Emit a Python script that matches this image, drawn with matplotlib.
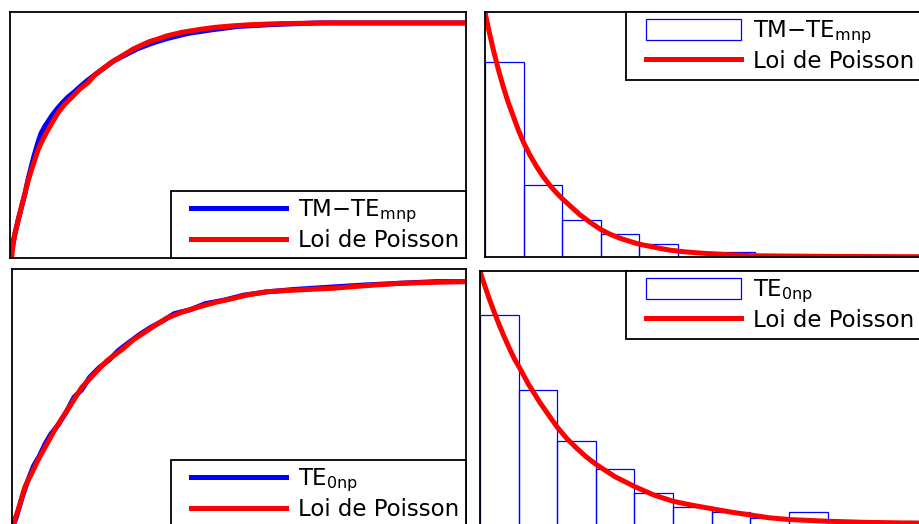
import numpy as np
import matplotlib
matplotlib.use("Agg")
import matplotlib.pyplot as plt
from matplotlib.legend_handler import HandlerLine2D, HandlerPatch

# --- data (x in bin units, bin width = 1) ---

# top-left: empirical cdf (blue) and Poisson cdf (red)
tl_blue_x = [0, 0.03, 0.08, 0.15, 0.22, 0.3, 0.38, 0.46, 0.55, 0.63, 0.72, 0.8, 0.9, 1.0, 1.1, 1.22,
             1.35, 1.5, 1.65, 1.82, 2.0, 2.2, 2.45, 2.7, 3.0, 3.3, 3.7, 4.1, 4.6, 5.2, 5.9, 6.8, 8.0, 11.8]
tl_blue_y = [0, 0.02, 0.07, 0.12, 0.17, 0.22, 0.27, 0.33, 0.39, 0.44, 0.49, 0.53, 0.56, 0.585, 0.61, 0.635,
             0.66, 0.685, 0.705, 0.73, 0.755, 0.78, 0.81, 0.84, 0.865, 0.89, 0.915, 0.935, 0.955, 0.97, 0.985, 0.993, 1.0, 1.0]
tl_red_x = [0, 0.044, 0.07, 0.13, 0.195, 0.26, 0.32, 0.39, 0.47, 0.56, 0.645, 0.73, 0.86, 0.99, 1.12, 1.25,
            1.42, 1.6, 1.8, 2.03, 2.2, 2.4, 2.6, 2.8, 3.0, 3.2, 3.4, 3.6, 3.8, 4.06, 4.45, 4.9, 5.3, 5.8,
            6.3, 7.0, 8.4, 11.8]
tl_red_y = [0, 0.008, 0.045, 0.108, 0.15, 0.193, 0.235, 0.278, 0.33, 0.378, 0.42, 0.463, 0.508, 0.548, 0.585, 0.62,
            0.655, 0.684, 0.718, 0.748, 0.78, 0.805, 0.83, 0.85, 0.87, 0.89, 0.905, 0.92, 0.93, 0.945, 0.96, 0.972,
            0.981, 0.988, 0.993, 0.997, 1.0, 1.0]

# top-right: histogram (blue bars) and Poisson density (red)
tr_bins = [0, 1, 2, 3, 4, 5, 6, 7, 8, 9, 10, 11]
tr_counts = [0.558, 0.2065, 0.1075, 0.0667, 0.0371, 0.0157, 0.0143, 0.004, 0.003, 0.002, 0.001, 0.001]
tr_red_x = [0, 0.1, 0.215, 0.35, 0.474, 0.6, 0.733, 0.86, 0.992, 1.15, 1.34, 1.5, 1.68, 1.84, 2.0, 2.23,
            2.46, 2.73, 3.0, 3.25, 3.5, 3.75, 4.0, 4.4, 4.79, 5.2, 5.66, 6.3, 6.95, 9.0, 12.0]
tr_red_y = [0.70, 0.648, 0.593, 0.535, 0.487, 0.443, 0.403, 0.365, 0.33, 0.295, 0.259, 0.232, 0.206, 0.186,
            0.168, 0.145, 0.122, 0.1, 0.08, 0.066, 0.055, 0.046, 0.038, 0.029, 0.021, 0.016, 0.012, 0.008,
            0.005, 0.003, 0.002]

# bottom-left
bl_blue_x = [0, 0.1, 0.25, 0.4, 0.55, 0.7, 0.85, 1.0, 1.2, 1.4, 1.6, 1.8, 2.0, 2.25, 2.5, 2.75, 3.0, 3.3,
             3.6, 3.9, 4.2, 4.6, 5.0, 5.5, 6.0, 6.6, 7.3, 8.0, 9.0, 10.0, 11.0, 11.8]
bl_blue_y = [0, 0.04, 0.12, 0.19, 0.25, 0.29, 0.34, 0.38, 0.42, 0.47, 0.53, 0.56, 0.61, 0.65, 0.68, 0.72, 0.75, 0.785,
             0.815, 0.84, 0.87, 0.885, 0.91, 0.925, 0.945, 0.958, 0.968, 0.975, 0.985, 0.993, 1.0, 1.0]
bl_red_x = [0, 0.07, 0.15, 0.24, 0.33, 0.5, 0.67, 0.88, 1.1, 1.32, 1.54, 1.8, 2.14, 2.45, 2.83, 3.15, 3.52,
            3.76, 4.0, 4.4, 4.86, 5.3, 5.73, 6.1, 6.59, 7.4, 8.32, 9.2, 10.04, 10.9, 11.75]
bl_red_y = [0, 0.035, 0.07, 0.12, 0.166, 0.22, 0.275, 0.335, 0.397, 0.452, 0.505, 0.57, 0.627, 0.678, 0.722,
            0.765, 0.803, 0.828, 0.851, 0.876, 0.898, 0.917, 0.932, 0.946, 0.959, 0.966, 0.973, 0.984, 0.993,
            0.997, 1.0]

# bottom-right
br_bins = [0, 1, 2, 3, 4, 5, 6, 7, 8, 9, 10, 11]
br_counts = [0.372, 0.242, 0.152, 0.103, 0.060, 0.0365, 0.028, 0.016, 0.028, 0.009, 0.007, 0.011]
br_red_x = [0, 0.05, 0.13, 0.23, 0.345, 0.47, 0.604, 0.69, 0.777, 0.89, 1.01, 1.25, 1.554, 1.77, 2.0, 2.25,
            2.505, 2.75, 3.0, 3.5, 4.0, 4.5, 5.0, 5.5, 6.0, 6.5, 7.0, 7.5, 8.0, 9.0, 10.0, 11.0, 12.0]
br_red_y = [0.45, 0.439, 0.423, 0.403, 0.382, 0.36, 0.338, 0.325, 0.312, 0.296, 0.282, 0.252, 0.219, 0.198,
            0.176, 0.156, 0.139, 0.124, 0.111, 0.089, 0.072, 0.057, 0.046, 0.039, 0.033, 0.027, 0.022, 0.017,
            0.014, 0.011, 0.009, 0.008, 0.007]

label_mnp = "TM\u2212TE$_{\\mathregular{mnp}}$"
label_0np = "TE$_{\\mathregular{0np}}$"
label_poisson = "Loi de Poisson"

W, H = 919, 524
plt.rcParams["font.family"] = ["DejaVu Sans"]
plt.rcParams["font.size"] = 16.5


def px_axes(fig, x0, y0, x1, y1):
    # axes placed by pixel box (top-left origin)
    ax = fig.add_axes([x0 / W, 1 - y1 / H, (x1 - x0) / W, (y1 - y0) / H])
    ax.set_xticks([])
    ax.set_yticks([])
    for s in ax.spines.values():
        s.set_linewidth(1.3)
    return ax


def style_legend(ax, handles, labels, loc, patch=False):
    hmap = {h: (HandlerPatch(xpad=0.57) if patch and i == 0 else HandlerLine2D(xpad=0.57))
            for i, h in enumerate(handles)}
    leg = ax.legend(handles, labels, loc=loc, borderaxespad=0, fancybox=False, edgecolor="black",
                    framealpha=1, handlelength=4.72, handletextpad=0.5, borderpad=0.3,
                    labelspacing=0.15, handleheight=1.05 if patch else 0.7, handler_map=hmap)
    leg.get_frame().set_linewidth(1.3)
    return leg


def plot_cdf(ax, bx, by, rx, ry, label, ytop, xmax):
    lb, = ax.plot(bx, by, color="blue", lw=3.6)
    lr, = ax.plot(rx, ry, color="red", lw=3.6, solid_joinstyle="round")
    ax.set_xlim(0, xmax)
    ax.set_ylim(0, ytop)
    style_legend(ax, [lb, lr], [label, label_poisson], "lower right")


def plot_hist(ax, bins, counts, rx, ry, label, ytop, xmax):
    bars = ax.bar(bins, counts, width=1, align="edge", fill=False, edgecolor="blue", lw=0.9)
    lr, = ax.plot(rx, ry, color="red", lw=3.6, solid_joinstyle="round")
    ax.set_xlim(0, xmax)
    ax.set_ylim(0, ytop)
    style_legend(ax, [bars.patches[0], lr], [label, label_poisson], "upper right", patch=True)


fig = plt.figure(figsize=(W / 100, H / 100), dpi=100)

ax1 = px_axes(fig, 10, 12.3, 465.7, 258.4)
plot_cdf(ax1, tl_blue_x, tl_blue_y, tl_red_x, tl_red_y, label_mnp, 1.045, 11.8)

ax2 = px_axes(fig, 485, 12.2, 921, 257.5)
plot_hist(ax2, tr_bins, tr_counts, tr_red_x, tr_red_y, label_mnp, 0.70, 11.3)

ax3 = px_axes(fig, 12.3, 269.3, 465.7, 527.5)
plot_cdf(ax3, bl_blue_x, bl_blue_y, bl_red_x, bl_red_y, label_0np, 1.05, 11.75)

ax4 = px_axes(fig, 480, 271, 921, 527.5)
plot_hist(ax4, br_bins, br_counts, br_red_x, br_red_y, label_0np, 0.45, 11.42)

fig.savefig("out.png", dpi=100)
